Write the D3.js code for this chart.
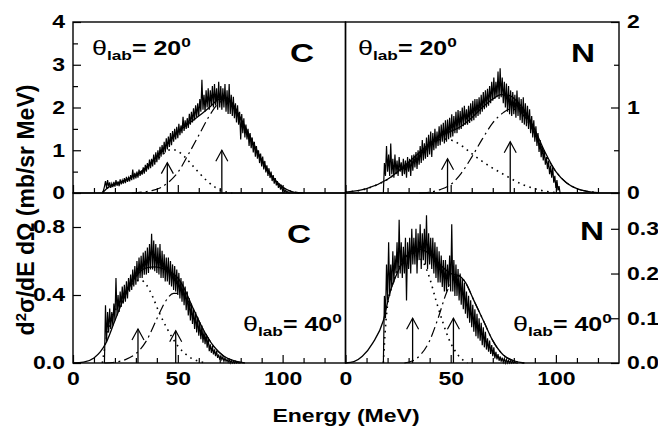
<!DOCTYPE html>
<html>
<head>
<meta charset="utf-8">
<script src="https://cdn.jsdelivr.net/npm/d3@7"></script>
<style>
  body { margin: 0; background: #fff; }
  svg text { font-family: "Liberation Sans", Arial, Helvetica, sans-serif; font-weight: bold; fill: #000; }
</style>
</head>
<body>
<div class="holder"></div>
<script>
"use strict";

// ---- data (energy in MeV, cross section in mb/sr MeV) ----
// measured spectra, 0.5 MeV channels starting at *Start
const chan = 0.5;

const rawTLStart = 14;
const rawTL = [
  0,0.05,0.15,0.28,0.12,0.3,0.15,0.25,0.12,0.22,
  0.14,0.26,0.15,0.3,0.17,0.27,0.16,0.32,0.2,0.3,
  0.22,0.35,0.23,0.38,0.26,0.36,0.27,0.42,0.3,0.55,
  0.32,0.47,0.34,0.5,0.36,0.55,0.4,0.52,0.43,0.6,
  0.45,0.66,0.5,0.7,0.55,0.78,0.58,0.8,0.62,0.9,
  0.66,0.95,0.72,1.0,0.78,1.08,0.85,1.12,0.9,1.2,
  0.95,1.28,1.02,1.32,1.08,1.4,1.12,1.45,1.2,1.5,
  1.25,1.55,1.28,1.62,1.35,1.58,1.4,1.78,1.45,1.7,
  1.5,1.75,1.52,1.85,1.6,1.9,1.65,1.98,1.7,2.05,
  1.78,2.1,1.8,2.2,1.9,2.65,1.95,2.3,1.9,2.4,
  2.0,2.45,1.95,2.4,2.05,2.5,2.0,2.55,2.05,2.45,
  1.95,2.6,2.0,2.5,1.95,2.45,2.0,2.55,1.9,2.4,
  1.85,2.55,1.85,2.3,1.8,2.25,1.75,2.1,1.65,2.05,
  1.6,1.9,1.25,1.85,1.4,1.75,1.3,1.6,1.25,1.5,
  1.1,1.4,1.05,1.3,0.95,1.2,0.85,1.1,0.8,1.0,
  0.7,0.92,0.62,0.85,0.55,0.75,0.48,0.65,0.4,0.58,
  0.35,0.5,0.28,0.42,0.22,0.35,0.18,0.28,0.12,0.22,
  0.08,0.16,0.05,0.1,0.03,0.06,0.01,0.03,0,0];

const rawTRStart = 18;
const rawTR = [
  0,0.35,0.2,0.55,0.25,0.45,0.2,0.58,0.22,0.4,
  0.18,0.45,0.22,0.38,0.2,0.42,0.25,0.36,0.2,0.4,
  0.22,0.38,0.18,0.42,0.25,0.4,0.2,0.44,0.26,0.45,
  0.3,0.48,0.28,0.5,0.33,0.55,0.35,0.62,0.38,0.58,
  0.4,0.65,0.42,0.68,0.45,0.72,0.42,0.7,0.5,0.75,
  0.52,0.72,0.55,0.78,0.56,0.8,0.6,0.82,0.58,0.85,
  0.6,0.86,0.63,0.88,0.65,0.92,0.66,0.9,0.7,0.95,
  0.7,0.97,0.74,0.96,0.75,1.0,0.78,1.02,0.8,0.98,
  0.8,1.02,0.82,1.05,0.84,1.08,0.85,1.1,0.88,1.1,
  0.9,1.12,0.92,1.15,0.95,1.18,0.98,1.2,1.0,1.22,
  1.02,1.25,1.05,1.3,1.08,1.35,1.1,1.3,1.12,1.42,
  1.1,1.46,1.12,1.35,1.05,1.3,1.0,1.28,0.95,1.25,
  0.92,1.2,0.9,1.18,0.92,1.15,0.88,1.2,0.9,1.12,
  0.85,1.1,0.82,1.12,0.8,1.05,0.78,1.02,0.75,0.98,
  0.7,0.9,0.65,0.85,0.6,0.78,0.55,0.7,0.48,0.62,
  0.42,0.55,0.38,0.5,0.33,0.42,0.28,0.38,0.22,0.32,
  0.18,0.3,0.12,0.2,0.06,0.15,0.03,0.08,0];

const rawBLStart = 15;
const rawBL = [
  0,0.34,0.12,0.3,0.18,0.32,0.2,0.3,0.22,0.35,
  0.25,0.5,0.28,0.4,0.3,0.42,0.33,0.45,0.35,0.46,
  0.36,0.48,0.38,0.5,0.42,0.52,0.43,0.55,0.45,0.57,
  0.46,0.6,0.48,0.62,0.5,0.63,0.5,0.65,0.52,0.66,
  0.52,0.68,0.53,0.7,0.55,0.76,0.55,0.72,0.54,0.7,
  0.53,0.68,0.52,0.7,0.5,0.66,0.5,0.64,0.48,0.62,
  0.48,0.62,0.46,0.6,0.45,0.58,0.43,0.57,0.42,0.55,
  0.4,0.53,0.38,0.5,0.36,0.48,0.34,0.45,0.31,0.42,
  0.28,0.38,0.25,0.35,0.23,0.32,0.2,0.3,0.18,0.27,
  0.16,0.24,0.14,0.22,0.12,0.19,0.11,0.17,0.09,0.15,
  0.07,0.11,0.06,0.1,0.05,0.08,0.04,0.07,0.03,0.05,
  0.02,0.045,0.02,0.035,0.01,0.03,0.01,0.02,0.005,0.02,
  0,0.015,0,0.01,0,0.01,0,0.005,0,0,0];

const rawBRStart = 18;
const rawBR = [
  0,0.15,0.1,0.22,0.14,0.27,0.15,0.22,0.17,0.25,
  0.18,0.24,0.2,0.27,0.19,0.32,0.2,0.27,0.19,0.26,
  0.2,0.28,0.14,0.27,0.21,0.28,0.2,0.3,0.22,0.28,
  0.22,0.3,0.2,0.29,0.23,0.31,0.21,0.29,0.23,0.3,
  0.22,0.33,0.21,0.29,0.22,0.28,0.21,0.28,0.2,0.27,
  0.19,0.26,0.18,0.25,0.18,0.24,0.17,0.23,0.16,0.23,
  0.16,0.22,0.17,0.24,0.16,0.31,0.16,0.23,0.15,0.22,
  0.15,0.21,0.14,0.2,0.13,0.19,0.12,0.18,0.11,0.16,
  0.1,0.15,0.09,0.14,0.08,0.13,0.07,0.12,0.06,0.11,
  0.055,0.1,0.05,0.09,0.04,0.08,0.035,0.07,0.03,0.055,
  0.025,0.05,0.02,0.04,0.015,0.035,0.01,0.025,0.008,0.02,
  0.005,0.015,0.003,0.012,0.002,0.01,0,0.008,0,0.006,
  0,0.005,0,0.004,0,0.003,0,0,0];

// fitted curves [E, value]: total (solid), low component (dotted), high component (dash-dot)
const totTL = [[14,0],[16,0.1],[20,0.2],[25,0.3],[30,0.42],[35,0.6],[40,0.86],[45,1.15],[50,1.42],[55,1.62],[60,1.8],[65,2.0],[70,2.2],[73,2.22],[76,2.1],[80,1.75],[85,1.27],[90,0.78],[95,0.39],[100,0.14],[104,0.04],[108,0]];
const lowTL = [[14,0],[16,0.1],[20,0.2],[25,0.3],[30,0.41],[35,0.57],[40,0.78],[44,0.95],[47,1.02],[50,0.98],[53,0.86],[56,0.7],[60,0.48],[64,0.28],[68,0.13],[72,0.04],[76,0]];
const highTL = [[28,0],[33,0.02],[38,0.06],[42,0.13],[46,0.27],[50,0.48],[55,0.9],[60,1.35],[65,1.8],[70,2.12],[73,2.17],[76,2.08],[80,1.72],[85,1.25],[90,0.77],[95,0.38],[100,0.13],[105,0.03],[110,0]];

const totTR = [[0,0.01],[10,0.05],[20,0.16],[30,0.36],[40,0.58],[45,0.67],[50,0.72],[55,0.78],[60,0.88],[65,1.0],[70,1.1],[74,1.15],[78,1.14],[82,1.06],[86,0.93],[90,0.74],[95,0.47],[100,0.25],[105,0.12],[110,0.05],[115,0.02],[120,0.005]];
const lowTR = [[0,0.01],[10,0.05],[20,0.16],[30,0.35],[38,0.53],[44,0.62],[48,0.63],[52,0.6],[56,0.54],[60,0.46],[65,0.37],[70,0.29],[75,0.22],[80,0.15],[85,0.09],[90,0.05],[95,0.02],[100,0.005],[104,0]];
const highTR = [[35,0],[40,0.01],[45,0.04],[50,0.1],[55,0.23],[60,0.42],[65,0.63],[70,0.82],[75,0.94],[78,0.98],[82,0.97],[86,0.86],[90,0.69],[95,0.45],[100,0.25],[105,0.12],[110,0.05],[115,0.02],[120,0.005]];

const totBL = [[0,0],[5,0.005],[10,0.03],[13,0.065],[16,0.125],[20,0.25],[25,0.4],[30,0.51],[35,0.56],[39,0.565],[43,0.555],[47,0.53],[50,0.5],[53,0.44],[57,0.33],[62,0.2],[67,0.1],[72,0.04],[77,0.012],[82,0]];
const lowBL = [[14,0],[16,0.15],[18,0.25],[21,0.33],[25,0.41],[29,0.47],[32,0.49],[35,0.46],[38,0.39],[41,0.3],[45,0.2],[50,0.1],[55,0.04],[60,0.01],[64,0]];
const highBL = [[15,0],[20,0.005],[25,0.02],[30,0.055],[35,0.13],[40,0.26],[44,0.36],[48,0.41],[51,0.41],[54,0.38],[57,0.32],[62,0.2],[67,0.1],[72,0.04],[77,0.012],[82,0]];

const totBR = [[0,0],[4,0.003],[8,0.015],[13,0.045],[18,0.095],[21,0.155],[26,0.215],[30,0.245],[34,0.255],[38,0.25],[42,0.235],[46,0.215],[50,0.2],[54,0.195],[57,0.18],[61,0.14],[66,0.09],[70,0.05],[75,0.018],[80,0.005],[85,0]];
const lowBR = [[18,0],[19,0.08],[20,0.13],[22,0.17],[25,0.21],[28,0.235],[31,0.245],[34,0.24],[37,0.225],[40,0.19],[43,0.14],[46,0.095],[49,0.055],[52,0.028],[55,0.01],[58,0]];
const highBR = [[28,0],[32,0.005],[36,0.02],[40,0.05],[44,0.1],[48,0.157],[51,0.185],[54,0.195],[57,0.18],[61,0.14],[66,0.09],[70,0.05],[75,0.018],[80,0.005],[85,0]];

// arrows [E, height]
const arrowsTL = [[45,0.71],[71,1.0]];
const arrowsTR = [[48.5,0.4],[78.3,0.6]];
const arrowsBL = [[31,0.2],[49,0.19]];
const arrowsBR = [[31.9,0.1],[51.3,0.1]];

// axis ticks
const xMajor = [0, 50, 100];
const xMinor = [10, 20, 30, 40, 60, 70, 80, 90, 110, 120];
const eMax = 130;

const w = 658;
const h = 435;
const stretch = 1.28; // text in the figure is wide

const svg = d3.select(".holder").append("svg")
  .attr("width", w).attr("height", h);

const colL = [73, 345.5];
const colR = [345.5, 619];
const rowT = [193, 22];
const rowB = [363, 193];

const panels = [
  { col: colL, row: rowT, yMax: 4, major: [0,1,2,3,4], minor: [0.5,1.5,2.5,3.5], fmt: d3.format("d"), side: "left", labels: false,
    start: rawTLStart, raw: rawTL, tot: totTL, low: lowTL, high: highTL, arrows: arrowsTL },
  { col: colR, row: rowT, yMax: 2, major: [0,1,2], minor: [0.5,1.5], fmt: d3.format("d"), side: "right", labels: false,
    start: rawTRStart, raw: rawTR, tot: totTR, low: lowTR, high: highTR, arrows: arrowsTR },
  { col: colL, row: rowB, yMax: 1.0, major: [0,0.4,0.8], minor: [], fmt: d3.format(".1f"), side: "left", labels: true,
    start: rawBLStart, raw: rawBL, tot: totBL, low: lowBL, high: highBL, arrows: arrowsBL },
  { col: colR, row: rowB, yMax: 0.38, major: [0,0.1,0.2,0.3], minor: [], fmt: d3.format(".1f"), side: "right", labels: true,
    start: rawBRStart, raw: rawBR, tot: totBR, low: lowBR, high: highBR, arrows: arrowsBR }
];

function stretchText(sel, dx) {
  sel.selectAll("text")
    .attr("transform", "scale(" + stretch + ",1)")
    .attr("x", dx / stretch)
    .style("font-size", "18px");
}

panels.forEach((p) => {
  const x = d3.scaleLinear().domain([0, eMax]).range(p.col);
  const y = d3.scaleLinear().domain([0, p.yMax]).range(p.row);
  const g = svg.append("g");

  // measured spectrum
  const raw = p.raw.map((v, i) => [p.start + i * chan, v]);
  g.append("path")
    .datum(raw)
    .attr("fill", "none")
    .attr("stroke", "#000")
    .attr("stroke-width", 1.2)
    .attr("d", d3.line().x((d) => x(d[0])).y((d) => y(d[1])));

  const curve = d3.line().x((d) => x(d[0])).y((d) => y(d[1])).curve(d3.curveMonotoneX);
  g.append("path").datum(p.tot).attr("fill", "none").attr("stroke", "#000")
    .attr("stroke-width", 1.3).attr("d", curve);
  g.append("path").datum(p.low).attr("fill", "none").attr("stroke", "#000")
    .attr("stroke-width", 1.6).attr("stroke-dasharray", "1.6,4.5").attr("d", curve);
  g.append("path").datum(p.high).attr("fill", "none").attr("stroke", "#000")
    .attr("stroke-width", 1.2).attr("stroke-dasharray", "10,4,2,4").attr("d", curve);

  // arrows
  p.arrows.forEach((a) => {
    const ax = x(a[0]);
    const ay = y(a[1]);
    g.append("line").attr("x1", ax).attr("x2", ax).attr("y1", y(0)).attr("y2", ay)
      .attr("stroke", "#000").attr("stroke-width", 1.3);
    g.append("path")
      .attr("d", "M" + (ax - 6) + "," + (ay + 11) + "L" + ax + "," + ay + "L" + (ax + 6) + "," + (ay + 11))
      .attr("fill", "none").attr("stroke", "#000").attr("stroke-width", 1.2);
  });

  // x ticks (inward)
  const xAxis = g.append("g").attr("transform", "translate(0," + p.row[0] + ")")
    .call(d3.axisBottom(x).tickValues(xMajor).tickSize(-8).tickPadding(9)
      .tickFormat(p.labels ? d3.format("d") : () => ""));
  g.append("g").attr("transform", "translate(0," + p.row[0] + ")")
    .call(d3.axisBottom(x).tickValues(xMinor).tickSize(-5).tickFormat(() => ""));
  stretchText(xAxis, 0);

  // y ticks (inward)
  const yPos = p.side === "left" ? p.col[0] : p.col[1];
  const ax = p.side === "left" ? d3.axisLeft(y) : d3.axisRight(y);
  const axMinor = p.side === "left" ? d3.axisLeft(y) : d3.axisRight(y);
  const yAxis = g.append("g").attr("transform", "translate(" + yPos + ",0)")
    .call(ax.tickValues(p.major).tickSize(-8).tickPadding(8).tickFormat(p.fmt));
  g.append("g").attr("transform", "translate(" + yPos + ",0)")
    .call(axMinor.tickValues(p.minor).tickSize(-5).tickFormat(() => ""));
  stretchText(yAxis, p.side === "left" ? -8 : 8);

  g.selectAll(".domain").remove();
  g.selectAll(".tick line").attr("stroke-width", 1.2);

  // frame
  g.append("rect")
    .attr("x", p.col[0]).attr("y", p.row[1])
    .attr("width", p.col[1] - p.col[0]).attr("height", p.row[0] - p.row[1])
    .attr("fill", "none").attr("stroke", "#000").attr("stroke-width", 1.4);
});

// angle labels
function angleLabel(x0, y0, deg) {
  const t = svg.append("g")
    .attr("transform", "translate(" + x0 + "," + y0 + ") scale(" + stretch + ",1)")
    .append("text");
  t.append("tspan").text("θ").style("font-size", "21px").style("font-weight", "normal");
  t.append("tspan").text("lab").attr("dy", 5).style("font-size", "13.5px");
  t.append("tspan").text("= " + deg).attr("dy", -5).style("font-size", "19.5px");
  t.append("tspan").text("0").attr("dy", -8).style("font-size", "13.5px");
}
angleLabel(92, 55, "20");
angleLabel(358, 55, "20");
angleLabel(243, 331, "40");
angleLabel(513, 331, "40");

// target labels
function targetLabel(x0, y0, s) {
  svg.append("g")
    .attr("transform", "translate(" + x0 + "," + y0 + ") scale(" + stretch + ",1)")
    .append("text").attr("text-anchor", "middle").style("font-size", "26px").text(s);
}
targetLabel(302, 62, "C");
targetLabel(583, 62, "N");
targetLabel(299, 243, "C");
targetLabel(592, 240, "N");

// axis titles
svg.append("g")
  .attr("transform", "translate(346,422) scale(" + stretch + ",1)")
  .append("text").attr("text-anchor", "middle").style("font-size", "18px").text("Energy (MeV)");

const yt = svg.append("text")
  .attr("transform", "translate(34,210) rotate(-90)")
  .attr("text-anchor", "middle")
  .style("font-size", "23px");
yt.append("tspan").text("d");
yt.append("tspan").text("2").attr("dy", -8).style("font-size", "15px");
yt.append("tspan").text("σ/dE dΩ (mb/sr MeV)").attr("dy", 8);
</script>
</body>
</html>
